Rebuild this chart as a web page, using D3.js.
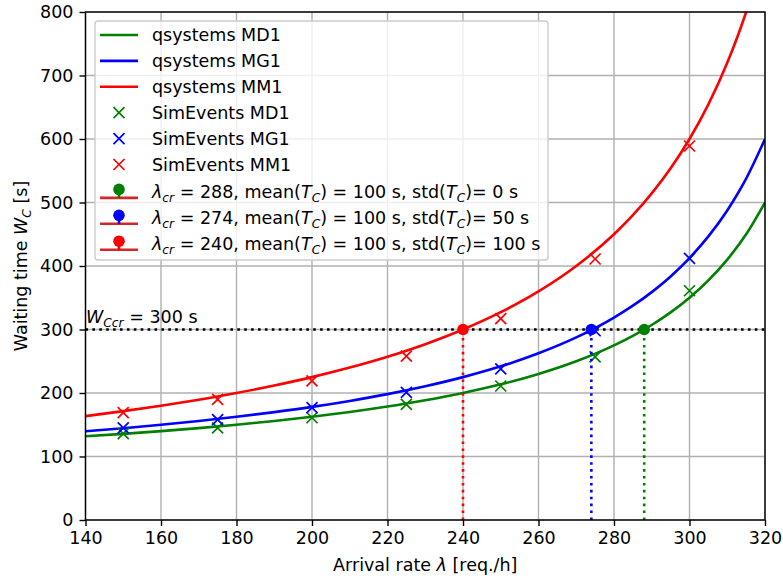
<!DOCTYPE html>
<html>
<head>
<meta charset="UTF-8">
<title>Waiting time vs arrival rate</title>
<script src="https://d3js.org/d3.v7.min.js"></script>
<style>
  body { margin: 0; background: #fff; }
  svg text { font-family: "DejaVu Sans", sans-serif; fill: #000; }
</style>
</head>
<body>
<script>
// analytic curves (qsystems)
var lambdaGrid = [140,150,160,170,180,190,200,210,220,230,240,250,260,270,280,285,290,295,300,305,310,315,320];
var qMD1 = [131.8,135.7,140,144.7,150,155.9,162.5,170,178.6,188.5,200,213.6,230,250,275,290,307.1,326.9,350,377.3,410,450,500];
var qMG1 = [139.8,144.6,150,155.9,162.5,169.9,178.1,187.5,198.2,210.6,225,242,262.5,287.5,318.8,337.5,358.9,383.6,412.5,446.6,487.5,537.5,600];
var qMM1 = [163.6,171.4,180,189.5,200,211.8,225,240,257.1,276.9,300,327.3,360,400,450,480,514.3,553.8,600,654.5,720,800,900];

// simulation points (SimEvents)
var simLambda = [150,175,200,225,250,275,300];
var simMD1 = [136,145,161,182,211,257,361];
var simMG1 = [145,158,177,201,238,298,412];
var simMM1 = [169,190,219,258,317,411,589];

// critical points
var critLambda = [288,274,240];
var critStd = [0,50,100];
var critW = 300;

var xTicks = [140,160,180,200,220,240,260,280,300,320];
var yTicks = [0,100,200,300,400,500,600,700,800];

var width = 783, height = 579;
var pL = 85.5, pR = 765, pT = 12, pB = 520;
var fs = 17.5;

var x = d3.scaleLinear().domain([140,320]).range([pL,pR]);
var y = d3.scaleLinear().domain([0,800]).range([pB,pT]);

var svg = d3.select("body").append("svg")
    .attr("width", width).attr("height", height);

svg.append("clipPath").attr("id","plotclip")
    .append("rect").attr("x",pL).attr("y",pT)
    .attr("width",pR-pL).attr("height",pB-pT);

// grid
svg.append("g").selectAll("line").data(xTicks).enter().append("line")
    .attr("x1",function(d){return x(d);}).attr("x2",function(d){return x(d);})
    .attr("y1",pT).attr("y2",pB)
    .attr("stroke","#b0b0b0").attr("stroke-width",1.4);
svg.append("g").selectAll("line").data(yTicks).enter().append("line")
    .attr("y1",function(d){return y(d);}).attr("y2",function(d){return y(d);})
    .attr("x1",pL).attr("x2",pR)
    .attr("stroke","#b0b0b0").attr("stroke-width",1.4);

var plot = svg.append("g").attr("clip-path","url(#plotclip)");

var line = d3.line()
    .x(function(d){return x(d[0]);})
    .y(function(d){return y(d[1]);})
    .curve(d3.curveMonotoneX);

var curves = [
    {vals:qMD1, color:"#008000"},
    {vals:qMG1, color:"#0000ff"},
    {vals:qMM1, color:"#ff0000"}
];
curves.forEach(function(c){
    plot.append("path")
        .datum(lambdaGrid.map(function(l,i){return [l,c.vals[i]];}))
        .attr("d",line)
        .attr("fill","none")
        .attr("stroke",c.color)
        .attr("stroke-width",2.6);
});

// x markers
function xMark(g, cx, cy, color, s){
    g.append("path")
        .attr("d","M"+(cx-s)+","+(cy-s)+"L"+(cx+s)+","+(cy+s)+"M"+(cx-s)+","+(cy+s)+"L"+(cx+s)+","+(cy-s))
        .attr("stroke",color).attr("stroke-width",1.7).attr("fill","none");
}
var sims = [
    {vals:simMD1, color:"#008000"},
    {vals:simMG1, color:"#0000ff"},
    {vals:simMM1, color:"#ff0000"}
];
sims.forEach(function(s){
    simLambda.forEach(function(l,i){
        xMark(plot, x(l), y(s.vals[i]), s.color, 5.5);
    });
});

// critical level line
plot.append("line")
    .attr("x1",x(140)).attr("x2",x(320))
    .attr("y1",y(critW)).attr("y2",y(critW))
    .attr("stroke","#000").attr("stroke-width",2.6)
    .attr("stroke-dasharray","2.6,4.3");

// stems
var critColors = ["#008000","#0000ff","#ff0000"];
critLambda.forEach(function(l,i){
    plot.append("line")
        .attr("x1",x(l)).attr("x2",x(l))
        .attr("y1",y(0)).attr("y2",y(critW))
        .attr("stroke",critColors[i]).attr("stroke-width",2.6)
        .attr("stroke-dasharray","2.6,4.3");
    plot.append("circle")
        .attr("cx",x(l)).attr("cy",y(critW)).attr("r",5.8)
        .attr("fill",critColors[i]);
});

// math-ish text helper: segments [text, italic, sub]
function mathText(t, segs){
    var prevSub = false;
    segs.forEach(function(s){
        var ts = t.append("tspan").text(s[0]);
        if (s[1]) ts.attr("font-style","italic");
        if (s[2]) { ts.attr("font-size", fs*0.7); if(!prevSub) ts.attr("dy", 4); }
        else if (prevSub) ts.attr("dy", -4);
        prevSub = !!s[2];
    });
}

var wt = svg.append("text")
    .attr("x", x(140)+0.5).attr("y", y(310))
    .attr("font-size", fs);
mathText(wt, [["W",true],["Ccr",true,true],[" = 300 s"]]);

// axes
var xAxis = d3.axisBottom(x).tickValues(xTicks).tickSize(6).tickPadding(6);
var yAxis = d3.axisLeft(y).tickValues(yTicks).tickSize(6).tickPadding(6);
var gx = svg.append("g").attr("transform","translate(0,"+pB+")").call(xAxis);
var gy = svg.append("g").attr("transform","translate("+pL+",0)").call(yAxis);
[gx,gy].forEach(function(g){
    g.select(".domain").remove();
    g.selectAll("line").attr("stroke","#000").attr("stroke-width",1.4);
    g.selectAll("text").attr("font-size",fs).attr("font-family","DejaVu Sans").attr("fill","#000");
});

svg.append("rect")
    .attr("x",pL).attr("y",pT)
    .attr("width",pR-pL).attr("height",pB-pT)
    .attr("fill","none").attr("stroke","#000").attr("stroke-width",1.4);

// axis labels
var xl = svg.append("text")
    .attr("x",(pL+pR)/2).attr("y",571)
    .attr("text-anchor","middle").attr("font-size",fs);
mathText(xl, [["Arrival rate "],["λ",true],[" [req./h]"]]);

var yl = svg.append("text")
    .attr("transform","translate(27,"+((pT+pB)/2)+") rotate(-90)")
    .attr("text-anchor","middle").attr("font-size",fs);
mathText(yl, [["Waiting time "],["W",true],["C",true,true],[" [s]"]]);

// legend
var lg = svg.append("g");
lg.append("rect")
    .attr("x",95).attr("y",21).attr("width",453).attr("height",239)
    .attr("rx",3)
    .attr("fill","#fff").attr("fill-opacity",0.8)
    .attr("stroke","#cccccc").attr("stroke-width",1.4);

var rowY = function(i){ return 35 + i*25.9; };
var hx0 = 100, hx1 = 138, hxc = 119, tx = 152;

var lineLabels = ["qsystems MD1","qsystems MG1","qsystems MM1"];
curves.forEach(function(c,i){
    lg.append("line").attr("x1",hx0).attr("x2",hx1)
        .attr("y1",rowY(i)).attr("y2",rowY(i))
        .attr("stroke",c.color).attr("stroke-width",2.6);
    lg.append("text").attr("x",tx).attr("y",rowY(i)+6).attr("font-size",fs).text(lineLabels[i]);
});
var simLabels = ["SimEvents MD1","SimEvents MG1","SimEvents MM1"];
sims.forEach(function(s,i){
    var yy = rowY(i+3);
    xMark(lg, hxc, yy, s.color, 5.5);
    lg.append("text").attr("x",tx).attr("y",yy+6).attr("font-size",fs).text(simLabels[i]);
});
critLambda.forEach(function(l,i){
    var yy = rowY(i+6) + 1.5;
    lg.append("line").attr("x1",hx0).attr("x2",hx1)
        .attr("y1",yy+6).attr("y2",yy+6)
        .attr("stroke","#d62728").attr("stroke-width",2.6);
    lg.append("line").attr("x1",hxc).attr("x2",hxc)
        .attr("y1",yy-2.5).attr("y2",yy+6)
        .attr("stroke",critColors[i]).attr("stroke-width",2.6);
    lg.append("circle").attr("cx",hxc).attr("cy",yy-2.5).attr("r",5.8).attr("fill",critColors[i]);
    var t = lg.append("text").attr("x",tx).attr("y",yy+6).attr("font-size",fs);
    mathText(t, [["λ",true],["cr",true,true],[" = "+l+", mean("],["T",true],["C",true,true],[") = 100 s, std("],["T",true],["C",true,true],[")= "+critStd[i]+" s"]]);
});
</script>
</body>
</html>
